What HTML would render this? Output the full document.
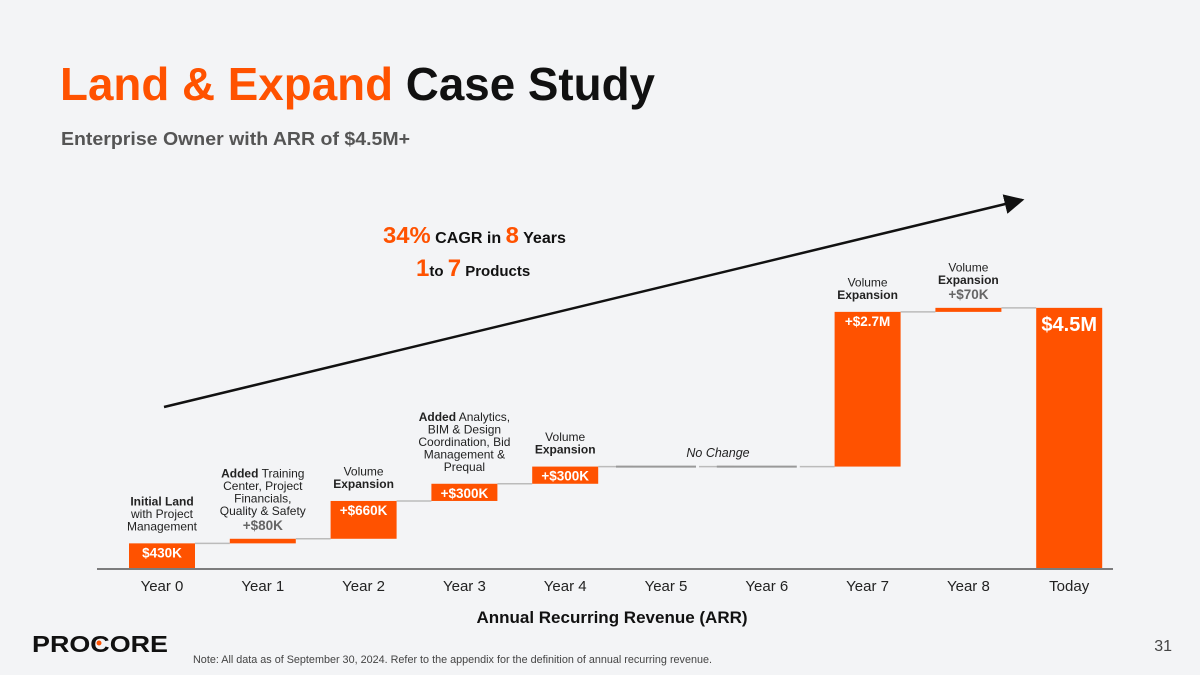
<!DOCTYPE html>
<html><head><meta charset="utf-8"><style>
body{margin:0;width:1200px;height:675px;background:#f3f4f6;overflow:hidden;font-family:"Liberation Sans",sans-serif}
svg{position:absolute;left:0;top:0}
</style></head><body>
<svg width="1200" height="675" viewBox="0 0 1200 675">
<text x="60" y="100" font-size="46" font-weight="bold" textLength="595" lengthAdjust="spacingAndGlyphs"><tspan fill="#ff5200">Land &amp; Expand</tspan><tspan fill="#111"> Case Study</tspan></text>
<text x="61" y="145" font-size="18" font-weight="bold" fill="#555" textLength="349" lengthAdjust="spacingAndGlyphs">Enterprise Owner with ARR of $4.5M+</text>
<defs><marker id="ah" markerWidth="8" markerHeight="8" refX="7" refY="4" orient="auto"><path d="M0,0 L8,4 L0,8 Z" fill="#111"/></marker></defs>
<line x1="164" y1="407" x2="1022" y2="200" stroke="#111" stroke-width="2.5" marker-end="url(#ah)"/>
<text x="383" y="243" font-weight="bold" fill="#111" font-size="15.5" textLength="183" lengthAdjust="spacingAndGlyphs"><tspan fill="#ff5200" font-size="23">34%</tspan> CAGR in <tspan fill="#ff5200" font-size="23">8</tspan> Years</text>
<text x="416" y="276" font-weight="bold" fill="#111" font-size="15"><tspan fill="#ff5200" font-size="24">1</tspan>to <tspan fill="#ff5200" font-size="24">7</tspan> Products</text>
<g id="chart"></g>
<line x1="97" y1="569" x2="1113" y2="569" stroke="#555" stroke-width="1.5"/>
<text x="612" y="623" font-size="17" font-weight="bold" text-anchor="middle" fill="#111">Annual Recurring Revenue (ARR)</text>
<g><text x="32" y="652" font-size="23" font-weight="900" fill="#111" textLength="136" lengthAdjust="spacingAndGlyphs">PROCORE</text><circle cx="99" cy="643" r="2.5" fill="#ff5200"/></g>
<text x="1172" y="651" font-size="16" fill="#444" text-anchor="end">31</text>
<text x="193" y="663" font-size="10.8" fill="#444" textLength="519" lengthAdjust="spacingAndGlyphs">Note: All data as of September 30, 2024. Refer to the appendix for the definition of annual recurring revenue.</text>
</svg>
<script>
const categories=["Year 0","Year 1","Year 2","Year 3","Year 4","Year 5","Year 6","Year 7","Year 8","Today"];
const deltas=[430,80,660,300,300,0,0,2700,70];
const valueLabels=["$430K","+$80K","+$660K","+$300K","+$300K","","","+$2.7M","+$70K","$4.5M"];
const annotations=[
 [["b","Initial Land"],["n","with Project"],["n","Management"]],
 [["bn","Added|Training"],["n","Center, Project"],["n","Financials,"],["n","Quality & Safety"]],
 [["n","Volume"],["b","Expansion"]],
 [["bn","Added| Analytics,"],["n","BIM & Design"],["n","Coordination, Bid"],["n","Management &"],["n","Prequal"]],
 [["n","Volume"],["b","Expansion"]],
 [],[],
 [["n","Volume"],["b","Expansion"]],
 [["n","Volume"],["b","Expansion"]],
 []];
const NS="http://www.w3.org/2000/svg";
const g=document.getElementById("chart");
const x0=162,step=100.8,bw=66,base=568,scale=0.0573;
const xc=i=>x0+i*step;
const y=v=>base-v*scale;
function mk(t,a){const e=document.createElementNS(NS,t);for(const k in a)e.setAttribute(k,a[k]);g.appendChild(e);return e;}
let cum=0;
const total=deltas.reduce((a,b)=>a+b,0);
for(let i=0;i<categories.length;i++){
 let lo,hi;
 if(i<deltas.length){lo=cum;cum+=deltas[i];hi=cum;}else{lo=0;hi=total;}
 const cx=xc(i);
 if(i==5||i==6){
  const ln=mk("line",{x1:cx-50,x2:cx+30,y1:y(hi),y2:y(hi),stroke:"#999","stroke-width":2});
  
  
 } else {
  const h=Math.max(y(lo)-y(hi),4);
  const r=mk("rect",{x:cx-bw/2,y:y(hi),width:bw,height:h,fill:"#ff5200"});
  
  
 }
 if(i<categories.length-1){
  const c=mk("line",{x1:cx+bw/2,x2:xc(i+1)-bw/2,y1:y(hi),y2:y(hi),stroke:"#bbb","stroke-width":1.5});
  
  
 }
 const small=(y(lo)-y(hi))<12&&deltas[i]>0;
 if(valueLabels[i]){
  const t=mk("text",{x:cx,y:small?y(hi)-9:y(hi)+(i==9?23:14),"text-anchor":"middle","font-weight":"bold","font-size":i==9?20:13.5,fill:small?"#666":"#fff"});
  t.textContent=valueLabels[i];
  
  
 }
 const xl=mk("text",{x:cx,y:591,"text-anchor":"middle","font-size":15,fill:"#222"});
 xl.textContent=categories[i];
 
 
 const ann=annotations[i];
 if(ann.length){
  let labelTop=small?y(hi)-24:y(hi)-13;
  let ly=labelTop-(ann.length-1)*12.5;
  for(const [k,s] of ann){
   const t=mk("text",{x:cx,y:ly,"text-anchor":"middle","font-size":12,fill:"#222"});
   if(k=="b"){t.setAttribute("font-weight","bold");t.textContent=s;}
   else if(k=="bn"){const [b,n]=s.split("|");const ts=document.createElementNS(NS,"tspan");ts.setAttribute("font-weight","bold");ts.textContent=b;t.appendChild(ts);t.appendChild(document.createTextNode(" "+n));}
   else t.textContent=s;
   
   
   ly+=12.5;
  }
 }
}
const nc=mk("text",{x:718,y:457,"text-anchor":"middle","font-size":12.5,"font-style":"italic",fill:"#222"});
nc.textContent="No Change";


</script>
</body></html>
